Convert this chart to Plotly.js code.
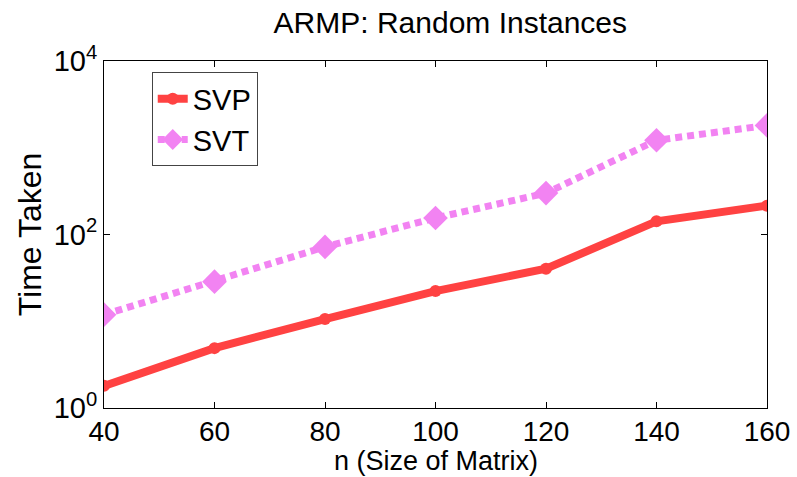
<!DOCTYPE html>
<html>
<head>
<meta charset="utf-8">
<script src="https://cdn.plot.ly/plotly-3.0.1.min.js"></script>
<style>
  html, body { margin: 0; padding: 0; background: #fff; }
  #chart { width: 797px; height: 477px; }
</style>
</head>
<body>
<div id="chart"></div>
<script>
// Matrix sizes n
const sizes = [40, 60, 80, 100, 120, 140, 160];
// Time taken by each method (log scale)
const svpTime = [1.8, 4.9, 10.6, 22.3, 40.3, 142, 215];
const svtTime = [11.9, 28.6, 72, 155, 300, 1220, 1810];

const xTicks = [40, 60, 80, 100, 120, 140, 160];
const yTickVals = [1, 100, 10000];
const yTickText = ['10<sup>0</sup>', '10<sup>2</sup>', '10<sup>4</sup>'];

const fontFamily = '"Liberation Sans", Arial, Helvetica, sans-serif';

const traces = [
  {
    x: sizes, y: svpTime, name: 'SVP', type: 'scatter', mode: 'lines+markers',
    line: { color: '#ff4242', width: 8 },
    marker: { symbol: 'circle', size: 12, color: '#ff4242' }
  },
  {
    x: sizes, y: svtTime, name: 'SVT', type: 'scatter', mode: 'lines+markers',
    line: { color: '#f283f2', width: 7, dash: '7px,5px' },
    marker: { symbol: 'diamond', size: 19, color: '#f283f2' }
  }
];

const layout = {
  width: 797, height: 477,
  margin: { l: 104, r: 30, t: 61, b: 69 },
  paper_bgcolor: '#ffffff', plot_bgcolor: '#ffffff',
  font: { family: fontFamily, color: '#000', size: 29 },
  title: {
    text: 'ARMP: Random Instances',
    font: { size: 30, family: fontFamily, color: '#000' },
    x: 0.565, xref: 'container', xanchor: 'center',
    y: 0.953, yref: 'container', yanchor: 'middle'
  },
  showlegend: true,
  legend: {
    x: 0.072, y: 0.967, xanchor: 'left', yanchor: 'top',
    bordercolor: '#444', borderwidth: 1, bgcolor: '#fff',
    font: { size: 29, family: fontFamily },
    itemwidth: 30, tracegroupgap: 0
  },
  xaxis: {
    range: [40, 160], tickvals: xTicks, ticktext: xTicks.map(String),
    ticks: 'inside', ticklen: 6, tickcolor: '#000', tickwidth: 1,
    showline: true, linecolor: '#000', linewidth: 1, mirror: 'ticks',
    showgrid: false, zeroline: false,
    ticklabelstandoff: -2,
    tickfont: { size: 28 }
  },
  yaxis: {
    type: 'log', range: [0, 4],
    tickvals: yTickVals, ticktext: yTickText,
    ticks: 'inside', ticklen: 6, tickcolor: '#000', tickwidth: 1,
    showline: true, linecolor: '#000', linewidth: 1, mirror: 'ticks',
    showgrid: false, zeroline: false,
    tickfont: { size: 29 },
    title: { text: 'Time Taken', font: { size: 32 }, standoff: 2 }
  },
  annotations: [{
    // x-axis title, set just below the tick labels
    text: 'n (Size of Matrix)', showarrow: false,
    xref: 'paper', yref: 'paper', x: 0.5, y: -0.153,
    xanchor: 'center', yanchor: 'middle',
    font: { size: 27, family: fontFamily, color: '#000' }
  }]
};

Plotly.newPlot('chart', traces, layout, { displayModeBar: false, staticPlot: true });
</script>
</body>
</html>
